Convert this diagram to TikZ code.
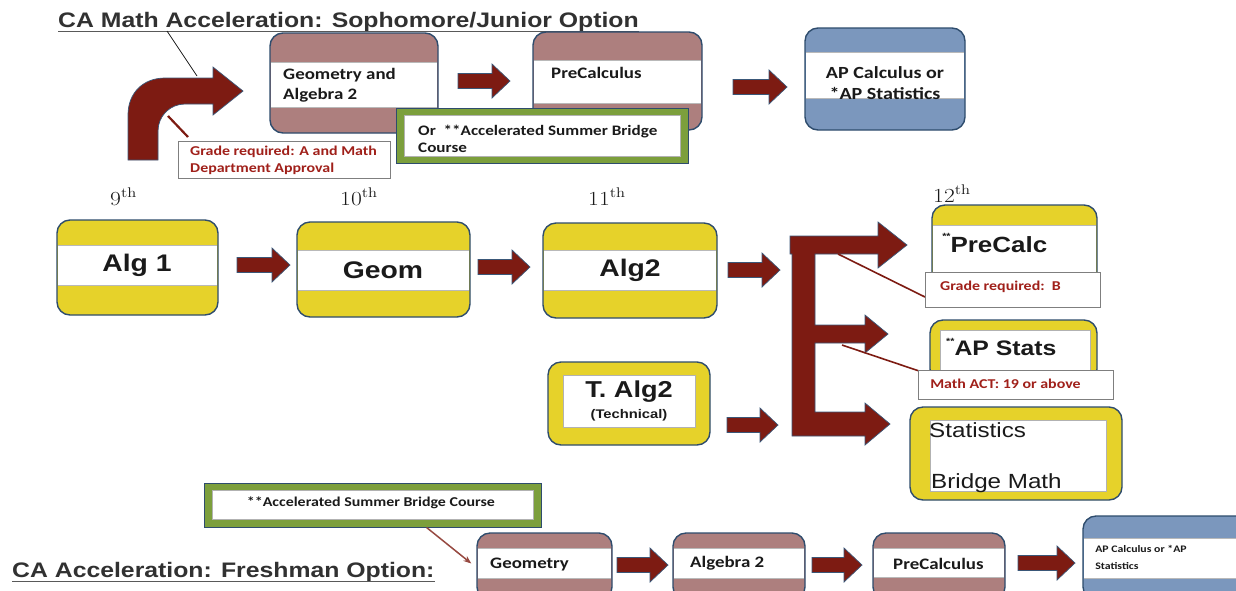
\documentclass[tikz,border=0pt]{standalone}
\usepackage{fontspec}
\newfontfamily\arialf{Liberation Sans}
\newfontfamily\calf{Carlito}
\usetikzlibrary{fit,arrows.meta,calc}
\definecolor{rose}{HTML}{AD7F7E}
\definecolor{yel}{HTML}{E6D22A}
\definecolor{bluec}{HTML}{7B97BD}
\definecolor{bord}{HTML}{2E4C6D}
\definecolor{arrred}{HTML}{7D1B12}
\definecolor{arrbord}{HTML}{3A5778}
\definecolor{olive}{HTML}{7C9F3C}
\definecolor{labred}{HTML}{A0201A}
\definecolor{labgray}{HTML}{7F7F7F}
\definecolor{ink}{HTML}{1A1A1A}
\tikzset{
  t/.style={inner sep=0pt, xscale=1.18, text=ink},
  frame/.style={draw=bord, line width=1.4pt, rounded corners=13pt, inner sep=0pt},
  arrowst/.style={fill=arrred, draw=arrbord, line width=0.7pt, line join=miter},
  lab/.style={draw=labgray, line width=1pt, fill=white, inner sep=0pt},
  bandline/.style={draw=gray!55, line width=0.6pt},
  cb/.style={font=\calf\bfseries\fontsize{16}{20}\selectfont},
  ab/.style={font=\arialf\bfseries\fontsize{24}{28}\selectfont},
  labt/.style={font=\calf\bfseries\fontsize{13.5}{17}\selectfont, text=labred},
  grade/.style={font=\fontsize{20}{24}\selectfont, text=ink},
}
\newcommand\tinystars{\raisebox{0.55em}{\fontsize{9}{9}\selectfont **}}
% block arrow: x1, x2, y
\newcommand\barr[3]{\filldraw[arrowst] (#1,#3-7.5) -- (#2-18,#3-7.5) -- (#2-18,#3-17) -- (#2,#3) -- (#2-18,#3+17) -- (#2-18,#3+7.5) -- (#1,#3+7.5) -- cycle;}
% banded box: name, x1,y1,x2,y2, fill, band top, band bottom
\newcommand\bandbox[8]{%
  \node[frame, fill=#6, fit={(#2,#3)(#4,#5)}] (#1) {};
  \fill[white] (#2+0.8,#7) rectangle (#4-0.8,#8);
  \draw[bandline] (#2+0.8,#7) -- (#4-0.8,#7) (#2+0.8,#8) -- (#4-0.8,#8);
}
% ring box: name, x1,y1,x2,y2, inner x1,y1,x2,y2
\newcommand\ringbox[9]{%
  \node[frame, fill=yel, fit={(#2,#3)(#4,#5)}] (#1) {};
  \filldraw[fill=white, draw=gray!60, line width=0.8pt] (#6,#7) rectangle (#8,#9);
}
\begin{document}
\begin{tikzpicture}[x=1pt,y=-1pt]
\clip (0,0) rectangle (1236,590);
\fill[white] (0,0) rectangle (1236,590);

% ---------- top: sophomore / junior option ----------
\node[t, anchor=base west, font=\arialf\bfseries\fontsize{21}{25}\selectfont, text=ink!90] (title1) at (58,27) {CA Math Acceleration: Sophomore/Junior Option};
\draw[gray!70!black, line width=1pt] ([yshift=-4pt]title1.base west) -- ([yshift=-4pt]title1.base east);

% bent arrow
\filldraw[arrowst] (128,160) -- (128,115) .. controls (128,93) and (143,78) .. (165,78) -- (213,78) -- (213,67) -- (243,91) -- (213,115) -- (213,104) -- (185,104) .. controls (170,104) and (158,116) .. (158,131) -- (158,160) -- cycle;
\coordinate (bendpt) at (197,76);
\draw[ink, line width=0.7pt] (167,31) -- (bendpt);
\coordinate (bendfoot) at (168,116);

\node[lab, fit={(178,141)(390,178)}] (labA) {};
\draw[arrred, line width=2.2pt] (bendfoot) -- (188,137);
\node[t, labt, anchor=west, align=left] (labAt) at (190,160) {Grade required: A and Math\\Department Approval};

\bandbox{ga}{270}{33}{438}{133}{rose}{62}{107}
\node[t, cb, anchor=west, align=left] (gat) at (283,85) {Geometry and\\Algebra 2};
\barr{458}{510}{81}
\bandbox{pc}{533}{32}{702}{130}{rose}{60}{103}
\node[t, cb, anchor=west] (pct) at (551,73) {PreCalculus};

\node[draw=bord, line width=1pt, fill=olive, inner sep=0pt, fit={(396,108)(688,163)}] (br1) {};
\filldraw[fill=white, draw=gray!60, line width=0.8pt] (404,115) rectangle (680,156);
\node[t, font=\calf\bfseries\fontsize{14.5}{17}\selectfont, anchor=west, align=left] (br1t) at (418,139) {Or\ \ **Accelerated Summer Bridge\\Course};

\barr{733}{787}{87}
\bandbox{ap}{805}{28}{965}{130}{bluec}{52}{98}
\node[t, font=\calf\bfseries\fontsize{17}{21}\selectfont, align=center] (apt) at (885,83) {AP Calculus or\\*AP Statistics};

% ---------- middle: regular path ----------
\node[t, grade, anchor=base west] (g9) at (110,205) {9\textsuperscript{th}};
\node[t, grade, anchor=base west] (g10) at (340,205) {10\textsuperscript{th}};
\node[t, grade, anchor=base west] (g11) at (588,205) {11\textsuperscript{th}};
\node[t, grade, anchor=base west] (g12) at (933,202) {12\textsuperscript{th}};

\bandbox{alg1}{57}{220}{218}{315}{yel}{245}{285}
\node[t, ab] (alg1t) at (137,265) {Alg 1};
\barr{237}{290}{265}
\bandbox{geom}{297}{222}{470}{317}{yel}{250}{290}
\node[t, ab] (geomt) at (383,270) {Geom};
\barr{478}{530}{267}
\bandbox{alg2}{543}{223}{717}{318}{yel}{250}{290}
\node[t, ab] (alg2t) at (630,270) {Alg2};
\barr{728}{780}{270}

\ringbox{talg}{548}{362}{710}{445}{563}{375}{695}{427}
\node[t, font=\arialf\bfseries\fontsize{23}{26}\selectfont] (talgt) at (629,392) {T. Alg2};
\node[t, font=\arialf\bfseries\fontsize{12.5}{15}\selectfont] (talgs) at (629,415) {(Technical)};
\barr{727}{778}{425}

% E-shaped branching arrow
\filldraw[arrowst] (790,236) -- (878,236) -- (878,222) -- (907,245) -- (878,268) -- (878,254) -- (815,254) -- (815,325) -- (865,325) -- (865,315) -- (888,334) -- (865,353) -- (865,343) -- (815,343) -- (815,412) -- (865,412) -- (865,403) -- (890,424) -- (865,445) -- (865,436) -- (792,436) -- (792,254) -- (790,254) -- cycle;

% 12th grade boxes
\bandbox{pc12}{932}{205}{1097}{295}{yel}{225}{285}
\node[t, font=\arialf\bfseries\fontsize{22}{26}\selectfont, anchor=west] (pc12t) at (942,243) {\tinystars PreCalc};

\ringbox{aps}{930}{320}{1097}{382}{940}{330}{1090}{375}
\node[t, font=\arialf\bfseries\fontsize{21}{25}\selectfont, anchor=west] (apst) at (946,347) {\tinystars AP Stats};

\coordinate (lineA) at (838,254);
\coordinate (lineB) at (842,345);
\draw[arrred, line width=1.6pt] (lineA) -- (925,297);
\draw[arrred, line width=1.6pt] (lineB) -- (922,372);

\node[lab, fit={(925,272)(1100,307)}] (labB) {};
\node[t, labt, anchor=west] (labBt) at (940,287) {Grade required:\ \ B};
\node[lab, fit={(918,370)(1113,399)}] (labC) {};
\node[t, labt, anchor=west] (labCt) at (930,384) {Math ACT: 19 or above};

\ringbox{stat}{910}{407}{1122}{500}{930}{420}{1106}{491}
\node[t, font=\arialf\fontsize{20.5}{24}\selectfont, anchor=base west] (statt) at (929,437) {Statistics};
\node[t, font=\arialf\fontsize{20.5}{24}\selectfont, anchor=base west] (bmt) at (931,488) {Bridge Math};

% ---------- bottom: freshman option ----------
\node[draw=bord, line width=1pt, fill=olive, inner sep=0pt, fit={(204,483)(541,527)}] (br2) {};
\filldraw[fill=white, draw=gray!60, line width=0.8pt] (212,490) rectangle (533,519);
\node[t, font=\calf\bfseries\fontsize{13.5}{16}\selectfont] (br2t) at (371,503) {**Accelerated Summer Bridge Course};

\node[t, anchor=base west, font=\arialf\bfseries\fontsize{21}{25}\selectfont, text=ink!90] (title2) at (12,577) {CA Acceleration: Freshman Option:};
\draw[gray!70!black, line width=1pt] ([yshift=-4pt]title2.base west) -- ([yshift=-4pt]title2.base east);

\bandbox{geo2}{477}{533}{612}{600}{rose}{548}{578}
\node[t, cb, anchor=west] (geo2t) at (490,564) {Geometry};
\draw[-{Stealth[length=8pt,width=6pt]}, color=arrred!80!white, line width=1.5pt] ($(br2.south west)!0.66!(br2.south east)$) -- ([xshift=-5pt,yshift=3pt]geo2.west);
\barr{617}{668}{565}
\bandbox{alg2b}{673}{533}{805}{600}{rose}{548}{578}
\node[t, cb, anchor=west] (alg2bt) at (690,563) {Algebra 2};
\barr{812}{862}{565}
\bandbox{pcb}{873}{533}{1005}{600}{rose}{548}{577}
\node[t, cb, anchor=west] (pcbt) at (893,564) {PreCalculus};
\barr{1018}{1075}{563}
\bandbox{apb}{1083}{516}{1250}{600}{bluec}{538}{578}
\node[t, font=\calf\bfseries\fontsize{10}{17}\selectfont, anchor=west, align=left] (apbt) at (1095,557) {AP Calculus or *AP\\Statistics};
\end{tikzpicture}
\end{document}
